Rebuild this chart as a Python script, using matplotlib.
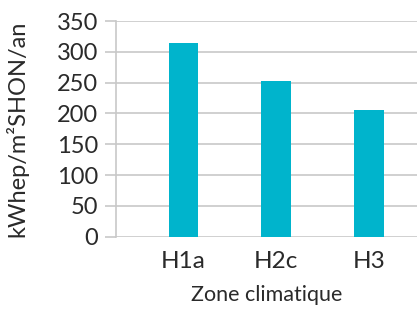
import matplotlib
matplotlib.use('Agg')
import matplotlib.pyplot as plt

# Data
zones = ['H1a', 'H2c', 'H3']
consommation = [314, 253, 206]
y_ticks = [0, 50, 100, 150, 200, 250, 300, 350]

plt.rcParams['font.family'] = ['Lato', 'DejaVu Sans']

fig = plt.figure(figsize=(4.17, 3.09), dpi=100)
ax = fig.add_axes([0.278, 0.234, 0.722, 0.698])

x = range(len(zones))
ax.bar(x, consommation, width=0.32, color='#00B4CC', zorder=3)

ax.set_ylim(0, 350)
ax.set_xlim(-0.73, 2.52)
ax.set_yticks(y_ticks)
ax.set_xticks(list(x))
ax.set_xticklabels(zones)

ax.grid(axis='y', color='#c8c8c8', linewidth=1.2, zorder=0)
for side in ['top', 'right', 'bottom']:
    ax.spines[side].set_visible(False)
ax.spines['left'].set_color('#c8c8c8')
ax.spines['left'].set_linewidth(1.2)

ax.tick_params(axis='y', length=8, width=1.2, color='#c8c8c8',
               labelsize=17, labelcolor='#2a2a2a', pad=5)
ax.tick_params(axis='x', length=0, labelsize=17.5, labelcolor='#2a2a2a', pad=10)

ax.set_ylabel('kWhep/m²SHON/an', fontsize=17, color='#2a2a2a')
ax.yaxis.set_label_coords(-0.29, 0.5)
ax.set_xlabel('Zone climatique', fontsize=15.5, color='#2a2a2a')
ax.xaxis.set_label_coords(0.5, -0.225)

fig.savefig('out.png', dpi=100)
